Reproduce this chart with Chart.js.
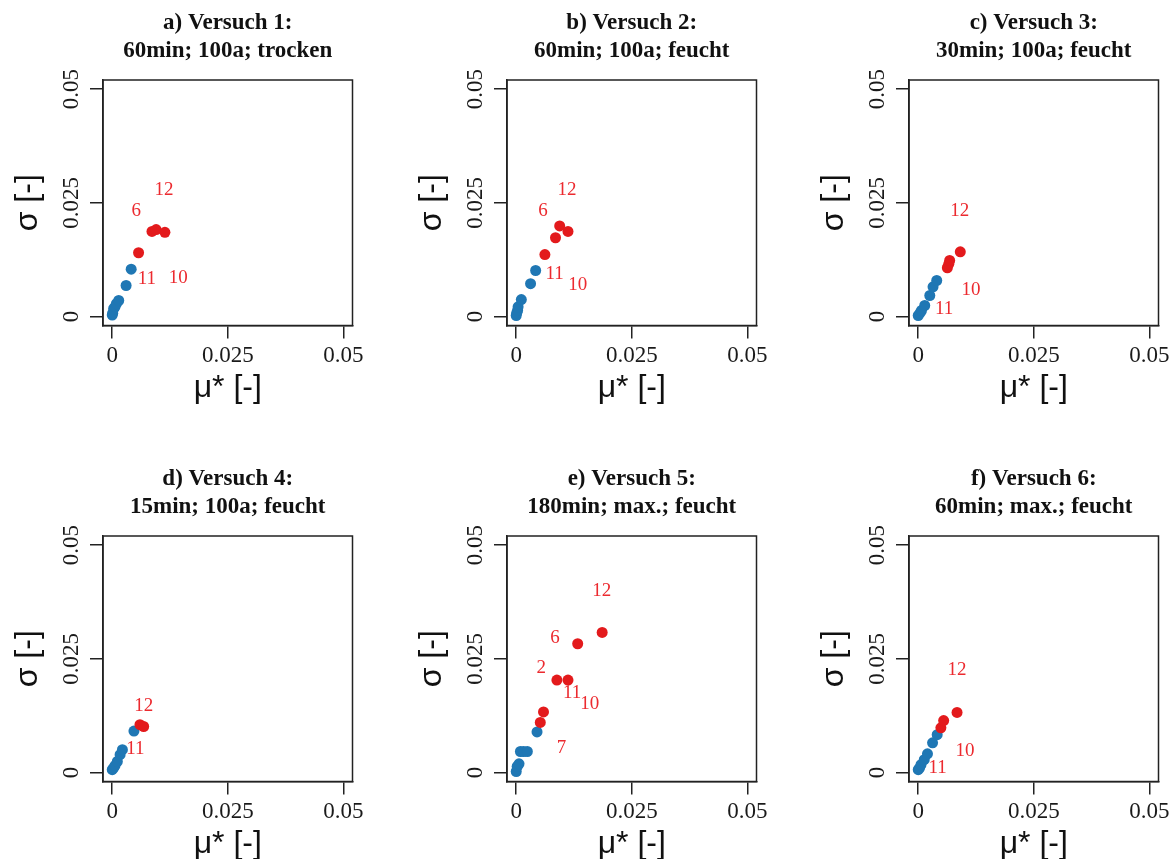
<!DOCTYPE html>
<html lang="de">
<head>
<meta charset="utf-8">
<title>Versuche 1–6: μ* und σ</title>
<script src="https://cdn.jsdelivr.net/npm/chart.js@4.4.1/dist/chart.umd.min.js"></script>
<style>
  html, body { margin: 0; padding: 0; background: #fff; overflow: hidden; }
  #page { position: relative; width: 1173px; height: 859px; }
  .panel { position: absolute; }
</style>
</head>
<body>
<div id="page">
  <canvas id="v1" class="panel" width="365" height="405" style="left:0px;top:0px"></canvas>
  <canvas id="v2" class="panel" width="365" height="405" style="left:404px;top:0px"></canvas>
  <canvas id="v3" class="panel" width="365" height="405" style="left:806px;top:0px"></canvas>
  <canvas id="v4" class="panel" width="365" height="405" style="left:0px;top:456px"></canvas>
  <canvas id="v5" class="panel" width="365" height="405" style="left:404px;top:456px"></canvas>
  <canvas id="v6" class="panel" width="365" height="405" style="left:806px;top:456px"></canvas>
</div>
<script>
// axes shared by all six panels
const axisMin = -0.002;
const axisMax = 0.052;
const tickValues = [0, 0.025, 0.05];
const tickLabels = ['0', '0.025', '0.05'];

// a) Versuch 1
const v1Title = ['a) Versuch 1:', '60min; 100a; trocken'];
const v1MuBlue = [0.0000, 0.0001, 0.0003, 0.0006, 0.0009, 0.0014, 0.0030, 0.0041];
const v1SigmaBlue = [0.0003, 0.0007, 0.0017, 0.0021, 0.0028, 0.0035, 0.0068, 0.0104];
const v1MuRed = [0.0057, 0.0086, 0.0095, 0.0114];
const v1SigmaRed = [0.0140, 0.0187, 0.0191, 0.0185];
const v1Numbers = ['12', '6', '11', '10'];
const v1NumberMu = [0.0112, 0.0052, 0.0075, 0.0143];
const v1NumberSigma = [0.0279, 0.0232, 0.0083, 0.0085];

// b) Versuch 2
const v2Title = ['b) Versuch 2:', '60min; 100a; feucht'];
const v2MuBlue = [0.0000, 0.0001, 0.0003, 0.0004, 0.0011, 0.0031, 0.0042];
const v2SigmaBlue = [0.0002, 0.0008, 0.0013, 0.0021, 0.0037, 0.0072, 0.0101];
const v2MuRed = [0.0062, 0.0085, 0.0094, 0.0112];
const v2SigmaRed = [0.0136, 0.0173, 0.0199, 0.0187];
const v2Numbers = ['12', '6', '11', '10'];
const v2NumberMu = [0.0110, 0.0058, 0.0083, 0.0133];
const v2NumberSigma = [0.0279, 0.0232, 0.0094, 0.0068];

// c) Versuch 3
const v3Title = ['c) Versuch 3:', '30min; 100a; feucht'];
const v3MuBlue = [0.0000, 0.0004, 0.0007, 0.0014, 0.0025, 0.0032, 0.0040];
const v3SigmaBlue = [0.0002, 0.0008, 0.0013, 0.0024, 0.0046, 0.0065, 0.0079];
const v3MuRed = [0.0063, 0.0066, 0.0068, 0.0091];
const v3SigmaRed = [0.0107, 0.0115, 0.0123, 0.0142];
const v3Numbers = ['12', '10', '11'];
const v3NumberMu = [0.0090, 0.0114, 0.0056];
const v3NumberSigma = [0.0232, 0.0057, 0.0017];

// d) Versuch 4
const v4Title = ['d) Versuch 4:', '15min; 100a; feucht'];
const v4MuBlue = [0.0000, 0.0003, 0.0006, 0.0011, 0.0017, 0.0022, 0.0047];
const v4SigmaBlue = [0.0006, 0.0010, 0.0015, 0.0024, 0.0039, 0.0050, 0.0091];
const v4MuRed = [0.0060, 0.0068];
const v4SigmaRed = [0.0105, 0.0101];
const v4Numbers = ['12', '11'];
const v4NumberMu = [0.0068, 0.0050];
const v4NumberSigma = [0.0147, 0.0051];

// e) Versuch 5
const v5Title = ['e) Versuch 5:', '180min; max.; feucht'];
const v5MuBlue = [0.0000, 0.0002, 0.0006, 0.0009, 0.0016, 0.0024, 0.0045];
const v5SigmaBlue = [0.0002, 0.0013, 0.0019, 0.0046, 0.0046, 0.0046, 0.0089];
const v5MuRed = [0.0052, 0.0059, 0.0088, 0.0112, 0.0133, 0.0186];
const v5SigmaRed = [0.0110, 0.0133, 0.0203, 0.0203, 0.0283, 0.0308];
const v5Numbers = ['12', '6', '2', '11', '10', '7'];
const v5NumberMu = [0.0185, 0.0084, 0.0054, 0.0121, 0.0159, 0.0098];
const v5NumberSigma = [0.0399, 0.0295, 0.0229, 0.0175, 0.0150, 0.0054];

// f) Versuch 6
const v6Title = ['f) Versuch 6:', '60min; max.; feucht'];
const v6MuBlue = [0.0000, 0.0003, 0.0006, 0.0013, 0.0020, 0.0031, 0.0041];
const v6SigmaBlue = [0.0006, 0.0010, 0.0017, 0.0028, 0.0041, 0.0065, 0.0083];
const v6MuRed = [0.0049, 0.0055, 0.0084];
const v6SigmaRed = [0.0098, 0.0114, 0.0132];
const v6Numbers = ['12', '10', '11'];
const v6NumberMu = [0.0084, 0.0101, 0.0042];
const v6NumberSigma = [0.0226, 0.0046, 0.0010];

const BLUE = '#1f77b4';
const RED = '#e31a1c';
const INK = '#1a1a1a';

/* ---------- plugins ---------- */

// closed frame round the plot region
const frameBox = {
  id: 'frameBox',
  afterDraw(chart) {
    const { ctx, chartArea: a } = chart;
    ctx.save();
    ctx.strokeStyle = '#222';
    ctx.lineWidth = 1.5;
    ctx.strokeRect(a.left, a.top, a.right - a.left, a.bottom - a.top);
    ctx.restore();
  }
};

// red point numbers, placed by the third (invisible) dataset
const pointNumbers = {
  id: 'pointNumbers',
  afterDatasetsDraw(chart) {
    const ds = chart.data.datasets[2];
    const meta = chart.getDatasetMeta(2);
    const ctx = chart.ctx;
    ctx.save();
    ctx.font = '19px "Liberation Serif"';
    ctx.fillStyle = '#ec2a2f';
    ctx.textAlign = 'center';
    ctx.textBaseline = 'middle';
    meta.data.forEach((el, i) => ctx.fillText(ds.numbers[i], el.x, el.y));
    ctx.restore();
  }
};

/* ---------- helpers ---------- */

function toPoints(xs, ys) {
  return xs.map((x, i) => ({ x, y: ys[i] }));
}

function makeAxis(label, isY) {
  const ticks = {
    callback: (v, i) => tickLabels[i],
    color: INK
  };
  if (isY) {
    ticks.font = { family: 'Liberation Serif', size: 23, lineHeight: 1.2 };
    ticks.minRotation = 90;
    ticks.maxRotation = 90;
    ticks.crossAlign = 'center';
    ticks.padding = -8;
  } else {
    // taller line box pushes the labels down without adding side padding
    ticks.font = { family: 'Liberation Serif', size: 23, lineHeight: 1.55 };
    ticks.maxRotation = 0;
    ticks.padding = 0;
  }
  return {
    type: 'linear',
    min: axisMin,
    max: axisMax,
    afterBuildTicks: s => { s.ticks = tickValues.map(v => ({ value: v })); },
    afterFit: s => { if (isY) s.width = 95; else s.height = 79.5; },
    grid: { drawOnChartArea: false, drawTicks: true, tickLength: 13, color: '#222', lineWidth: 1.5 },
    border: { display: true, color: '#222', width: 1.5 },
    ticks,
    title: {
      display: true,
      text: label,
      color: '#111',
      font: { family: 'Liberation Sans', size: 32, lineHeight: 1.2 },
      padding: isY ? { top: 0.5, bottom: 0 } : { top: 0, bottom: -2.5 }
    }
  };
}

function makePanel(id, title, muBlue, sigmaBlue, muRed, sigmaRed, numbers, numberMu, numberSigma) {
  return new Chart(document.getElementById(id), {
    type: 'scatter',
    data: {
      datasets: [
        { data: toPoints(muRed, sigmaRed), backgroundColor: RED, pointRadius: 5.5, borderWidth: 0 },
        { data: toPoints(muBlue, sigmaBlue), backgroundColor: BLUE, pointRadius: 5.5, borderWidth: 0 },
        { data: toPoints(numberMu, numberSigma), numbers, pointRadius: 0, borderWidth: 0 }
      ]
    },
    options: {
      responsive: false,
      animation: false,
      devicePixelRatio: 1,
      layout: { padding: { left: 8, right: 12.5, top: 0, bottom: 0 } },
      plugins: {
        legend: { display: false },
        tooltip: { enabled: false },
        title: {
          display: true,
          text: title,
          fullSize: false,
          color: '#111',
          font: { family: 'Liberation Serif', size: 23, weight: 'bold', lineHeight: '28px' },
          padding: { top: 9.5, bottom: 14.5 }
        }
      },
      scales: {
        x: makeAxis('μ* [-]', false),
        y: makeAxis('σ [-]', true)
      }
    },
    plugins: [frameBox, pointNumbers]
  });
}

makePanel('v1', v1Title, v1MuBlue, v1SigmaBlue, v1MuRed, v1SigmaRed, v1Numbers, v1NumberMu, v1NumberSigma);
makePanel('v2', v2Title, v2MuBlue, v2SigmaBlue, v2MuRed, v2SigmaRed, v2Numbers, v2NumberMu, v2NumberSigma);
makePanel('v3', v3Title, v3MuBlue, v3SigmaBlue, v3MuRed, v3SigmaRed, v3Numbers, v3NumberMu, v3NumberSigma);
makePanel('v4', v4Title, v4MuBlue, v4SigmaBlue, v4MuRed, v4SigmaRed, v4Numbers, v4NumberMu, v4NumberSigma);
makePanel('v5', v5Title, v5MuBlue, v5SigmaBlue, v5MuRed, v5SigmaRed, v5Numbers, v5NumberMu, v5NumberSigma);
makePanel('v6', v6Title, v6MuBlue, v6SigmaBlue, v6MuRed, v6SigmaRed, v6Numbers, v6NumberMu, v6NumberSigma);
</script>
</body>
</html>
